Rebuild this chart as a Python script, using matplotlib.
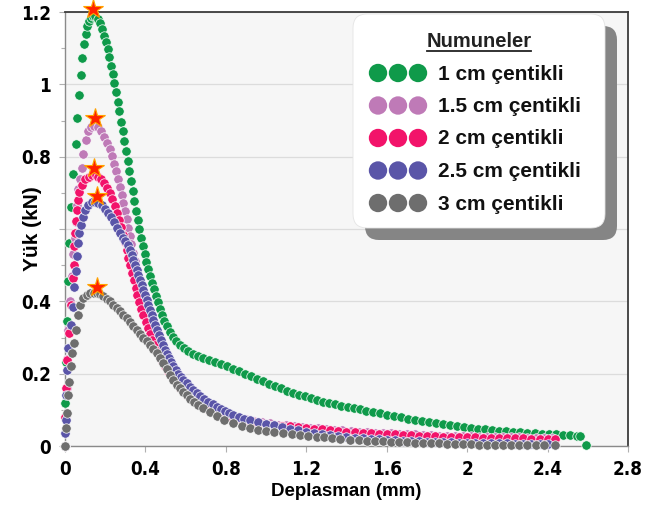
import matplotlib
matplotlib.use("Agg")
import matplotlib.pyplot as plt
from matplotlib.patches import FancyBboxPatch
from matplotlib.ticker import MultipleLocator

# Yük - deplasman verileri (her numune için)
x_1cm = [0.000, 0.001, 0.006, 0.012, 0.015, 0.020, 0.030, 0.041, 0.053, 0.061, 0.070, 0.078, 0.086, 0.095, 0.103,
         0.111, 0.119, 0.128, 0.138, 0.149, 0.163, 0.174, 0.186, 0.196, 0.204, 0.212, 0.220, 0.229, 0.237, 0.245,
         0.254, 0.262, 0.270, 0.278, 0.286, 0.294, 0.302, 0.311, 0.320, 0.328, 0.337, 0.345, 0.353, 0.361, 0.369,
         0.378, 0.387, 0.396, 0.404, 0.413, 0.422, 0.431, 0.441, 0.451, 0.461, 0.471, 0.482, 0.494, 0.507, 0.521,
         0.536, 0.553, 0.571, 0.591, 0.613, 0.637, 0.662, 0.688, 0.715, 0.745, 0.775, 0.805, 0.835, 0.865, 0.895,
         0.925, 0.955, 0.985, 1.015, 1.045, 1.075, 1.105, 1.135, 1.165, 1.195, 1.225, 1.255, 1.285, 1.315, 1.345,
         1.375, 1.405, 1.435, 1.465, 1.495, 1.530, 1.565, 1.600, 1.635, 1.670, 1.705, 1.740, 1.775, 1.810, 1.845,
         1.880, 1.915, 1.950, 1.985, 2.020, 2.055, 2.090, 2.125, 2.160, 2.195, 2.230, 2.265, 2.300, 2.335, 2.370,
         2.405, 2.440, 2.475, 2.510, 2.545, 2.560, 2.592]
y_1cm = [0.000, 0.120, 0.232, 0.345, 0.456, 0.561, 0.660, 0.753, 0.836, 0.908, 0.970, 1.026, 1.072, 1.111, 1.139,
         1.160, 1.176, 1.184, 1.188, 1.188, 1.181, 1.169, 1.153, 1.135, 1.117, 1.097, 1.076, 1.052, 1.028, 1.004,
         0.979, 0.952, 0.925, 0.897, 0.870, 0.843, 0.816, 0.788, 0.760, 0.732, 0.705, 0.678, 0.651, 0.625, 0.600,
         0.576, 0.553, 0.531, 0.510, 0.490, 0.471, 0.452, 0.433, 0.415, 0.397, 0.380, 0.363, 0.347, 0.331, 0.316,
         0.302, 0.290, 0.279, 0.270, 0.262, 0.255, 0.249, 0.244, 0.238, 0.232, 0.226, 0.220, 0.214, 0.207, 0.200,
         0.193, 0.186, 0.179, 0.172, 0.166, 0.159, 0.153, 0.147, 0.142, 0.137, 0.132, 0.127, 0.123, 0.119, 0.115,
         0.111, 0.107, 0.104, 0.101, 0.098, 0.094, 0.090, 0.086, 0.082, 0.079, 0.075, 0.072, 0.069, 0.066, 0.063,
         0.060, 0.058, 0.055, 0.053, 0.050, 0.048, 0.046, 0.044, 0.042, 0.041, 0.039, 0.038, 0.036, 0.035, 0.034,
         0.033, 0.032, 0.031, 0.030, 0.029, 0.028, 0.002]

x_15cm = [0.000, 0.004, 0.008, 0.012, 0.017, 0.024, 0.034, 0.042, 0.048, 0.053, 0.058, 0.066, 0.075, 0.083, 0.091,
          0.103, 0.116, 0.131, 0.146, 0.164, 0.180, 0.195, 0.209, 0.222, 0.234, 0.245, 0.255, 0.264, 0.273, 0.282,
          0.290, 0.298, 0.306, 0.314, 0.322, 0.330, 0.338, 0.346, 0.354, 0.363, 0.372, 0.381, 0.391, 0.401, 0.412,
          0.423, 0.435, 0.447, 0.460, 0.473, 0.487, 0.501, 0.516, 0.531, 0.547, 0.564, 0.582, 0.601, 0.621, 0.642,
          0.664, 0.687, 0.711, 0.736, 0.762, 0.790, 0.820, 0.860, 0.900, 0.940, 0.980, 1.020, 1.060, 1.100, 1.140,
          1.180, 1.220, 1.260, 1.300, 1.340, 1.380, 1.420, 1.460, 1.500, 1.540, 1.580, 1.620, 1.660, 1.700, 1.740,
          1.780, 1.820, 1.860, 1.900, 1.940, 1.980, 2.020, 2.060, 2.100, 2.140, 2.180, 2.220, 2.260, 2.300, 2.340,
          2.380, 2.420]
y_15cm = [0.000, 0.080, 0.160, 0.240, 0.320, 0.400, 0.470, 0.530, 0.575, 0.618, 0.666, 0.710, 0.738, 0.770, 0.808,
          0.845, 0.872, 0.883, 0.886, 0.881, 0.870, 0.855, 0.838, 0.820, 0.801, 0.781, 0.760, 0.739, 0.717, 0.695,
          0.673, 0.650, 0.627, 0.604, 0.581, 0.558, 0.535, 0.512, 0.489, 0.466, 0.443, 0.420, 0.398, 0.377, 0.356,
          0.336, 0.317, 0.299, 0.282, 0.265, 0.249, 0.234, 0.219, 0.205, 0.192, 0.179, 0.167, 0.155, 0.144, 0.134,
          0.125, 0.116, 0.108, 0.101, 0.095, 0.089, 0.084, 0.079, 0.074, 0.070, 0.067, 0.064, 0.059, 0.057, 0.055,
          0.053, 0.051, 0.049, 0.047, 0.045, 0.043, 0.041, 0.040, 0.038, 0.037, 0.036, 0.035, 0.034, 0.033, 0.032,
          0.031, 0.030, 0.029, 0.029, 0.028, 0.027, 0.027, 0.026, 0.026, 0.025, 0.025, 0.024, 0.024, 0.023, 0.023,
          0.022, 0.022]

x_2cm = [0.000, 0.000, 0.006, 0.012, 0.020, 0.030, 0.041, 0.045, 0.046, 0.050, 0.053, 0.058, 0.063, 0.070, 0.083,
         0.100, 0.118, 0.136, 0.152, 0.166, 0.180, 0.194, 0.208, 0.222, 0.235, 0.247, 0.258, 0.268, 0.278, 0.288,
         0.297, 0.306, 0.315, 0.324, 0.333, 0.342, 0.351, 0.360, 0.370, 0.380, 0.390, 0.401, 0.412, 0.423, 0.435,
         0.447, 0.459, 0.471, 0.484, 0.497, 0.511, 0.525, 0.540, 0.556, 0.572, 0.589, 0.607, 0.626, 0.646, 0.667,
         0.689, 0.712, 0.736, 0.761, 0.790, 0.820, 0.850, 0.880, 0.910, 0.940, 0.970, 1.000, 1.040, 1.080, 1.120,
         1.160, 1.200, 1.240, 1.280, 1.320, 1.360, 1.400, 1.440, 1.480, 1.520, 1.560, 1.600, 1.640, 1.680, 1.720,
         1.760, 1.800, 1.840, 1.880, 1.920, 1.960, 2.000, 2.040, 2.080, 2.120, 2.160, 2.200, 2.240, 2.280, 2.320,
         2.360, 2.400, 2.438]
y_2cm = [0.000, 0.080, 0.160, 0.238, 0.312, 0.390, 0.464, 0.500, 0.552, 0.589, 0.621, 0.653, 0.680, 0.703, 0.721,
         0.737, 0.745, 0.749, 0.748, 0.744, 0.737, 0.727, 0.714, 0.699, 0.682, 0.664, 0.645, 0.625, 0.605, 0.584,
         0.563, 0.542, 0.521, 0.500, 0.479, 0.458, 0.437, 0.417, 0.398, 0.379, 0.361, 0.343, 0.326, 0.310, 0.294,
         0.278, 0.263, 0.248, 0.234, 0.221, 0.208, 0.196, 0.184, 0.172, 0.161, 0.151, 0.141, 0.132, 0.124, 0.116,
         0.109, 0.102, 0.096, 0.090, 0.085, 0.080, 0.076, 0.072, 0.069, 0.066, 0.064, 0.062, 0.059, 0.056, 0.054,
         0.052, 0.050, 0.048, 0.046, 0.044, 0.042, 0.040, 0.038, 0.037, 0.035, 0.034, 0.033, 0.032, 0.031, 0.030,
         0.029, 0.028, 0.027, 0.026, 0.026, 0.025, 0.024, 0.024, 0.023, 0.023, 0.022, 0.022, 0.021, 0.021, 0.020,
         0.020, 0.019, 0.018]

x_25cm = [0.000, 0.002, 0.004, 0.006, 0.009, 0.017, 0.028, 0.038, 0.045, 0.054, 0.061, 0.066, 0.072, 0.080, 0.089,
          0.100, 0.116, 0.132, 0.148, 0.166, 0.182, 0.198, 0.214, 0.230, 0.246, 0.261, 0.275, 0.288, 0.300, 0.312,
          0.323, 0.332, 0.340, 0.349, 0.357, 0.365, 0.373, 0.382, 0.390, 0.398, 0.407, 0.415, 0.423, 0.431, 0.440,
          0.448, 0.456, 0.466, 0.477, 0.487, 0.498, 0.508, 0.518, 0.529, 0.539, 0.551, 0.564, 0.576, 0.589, 0.605,
          0.621, 0.638, 0.655, 0.672, 0.692, 0.713, 0.734, 0.755, 0.775, 0.796, 0.816, 0.837, 0.865, 0.892, 0.920,
          0.960, 1.000, 1.040, 1.080, 1.120, 1.160, 1.200, 1.240, 1.280, 1.320, 1.360, 1.400, 1.440, 1.480, 1.520,
          1.560, 1.600, 1.640, 1.680, 1.720, 1.760, 1.800, 1.840, 1.880, 1.920, 1.960, 2.000, 2.040, 2.080, 2.120,
          2.160, 2.200, 2.240, 2.280, 2.320, 2.360, 2.400]
y_25cm = [0.000, 0.036, 0.072, 0.140, 0.210, 0.270, 0.335, 0.385, 0.440, 0.485, 0.524, 0.561, 0.589, 0.611, 0.634,
          0.653, 0.666, 0.674, 0.676, 0.673, 0.665, 0.655, 0.644, 0.632, 0.619, 0.604, 0.589, 0.576, 0.566, 0.555,
          0.543, 0.529, 0.515, 0.501, 0.487, 0.473, 0.459, 0.445, 0.432, 0.418, 0.404, 0.391, 0.377, 0.363, 0.349,
          0.335, 0.321, 0.307, 0.293, 0.280, 0.266, 0.254, 0.242, 0.231, 0.220, 0.210, 0.200, 0.191, 0.183, 0.174,
          0.163, 0.155, 0.146, 0.138, 0.131, 0.123, 0.116, 0.109, 0.103, 0.097, 0.091, 0.086, 0.081, 0.076, 0.072,
          0.066, 0.061, 0.057, 0.052, 0.047, 0.043, 0.039, 0.036, 0.033, 0.030, 0.027, 0.025, 0.023, 0.021, 0.019,
          0.018, 0.017, 0.016, 0.015, 0.014, 0.013, 0.012, 0.011, 0.010, 0.010, 0.009, 0.009, 0.008, 0.008, 0.007,
          0.007, 0.007, 0.006, 0.006, 0.006, 0.006, 0.005]

x_3cm = [0.000, 0.005, 0.011, 0.017, 0.021, 0.028, 0.033, 0.045, 0.055, 0.066, 0.075, 0.091, 0.108, 0.125, 0.142,
         0.158, 0.175, 0.191, 0.207, 0.224, 0.240, 0.257, 0.273, 0.290, 0.306, 0.323, 0.340, 0.357, 0.373, 0.390,
         0.406, 0.423, 0.440, 0.456, 0.472, 0.489, 0.505, 0.522, 0.539, 0.556, 0.572, 0.589, 0.605, 0.622, 0.643,
         0.663, 0.688, 0.720, 0.755, 0.790, 0.837, 0.880, 0.920, 0.960, 1.000, 1.040, 1.086, 1.130, 1.170, 1.210,
         1.252, 1.290, 1.330, 1.370, 1.418, 1.460, 1.500, 1.540, 1.580, 1.620, 1.660, 1.700, 1.740, 1.780, 1.820,
         1.860, 1.900, 1.940, 1.980, 2.020, 2.060, 2.100, 2.140, 2.180, 2.220, 2.260, 2.300, 2.340, 2.380, 2.438]
y_3cm = [0.000, 0.049, 0.090, 0.141, 0.178, 0.220, 0.256, 0.284, 0.320, 0.362, 0.390, 0.408, 0.417, 0.422, 0.424,
         0.423, 0.420, 0.414, 0.407, 0.400, 0.391, 0.382, 0.372, 0.362, 0.353, 0.344, 0.333, 0.322, 0.310, 0.298,
         0.289, 0.280, 0.268, 0.256, 0.243, 0.229, 0.213, 0.197, 0.183, 0.169, 0.159, 0.149, 0.140, 0.131, 0.122,
         0.114, 0.104, 0.093, 0.083, 0.073, 0.064, 0.056, 0.049, 0.045, 0.041, 0.038, 0.035, 0.032, 0.030, 0.028,
         0.026, 0.024, 0.022, 0.020, 0.017, 0.016, 0.015, 0.014, 0.013, 0.012, 0.011, 0.010, 0.009, 0.008, 0.008,
         0.007, 0.006, 0.006, 0.005, 0.005, 0.004, 0.004, 0.004, 0.003, 0.003, 0.003, 0.003, 0.003, 0.003, 0.003]

# maksimum yük noktaları (yıldızlar)
peak_x = [0.138, 0.149, 0.146, 0.160, 0.158]
peak_y = [1.209, 0.906, 0.768, 0.690, 0.440]

labels = ['1 cm çentikli', '1.5 cm çentikli', '2 cm çentikli', '2.5 cm çentikli', '3 cm çentikli']
colors = ['#0f9a4a', '#bf7ab7', '#f2136a', '#5a55a8', '#6e6e6e']
series = [(x_1cm, y_1cm), (x_15cm, y_15cm), (x_2cm, y_2cm), (x_25cm, y_25cm), (x_3cm, y_3cm)]

x_ticks = [0, 0.4, 0.8, 1.2, 1.6, 2.0, 2.4, 2.8]
x_tick_labels = ['0', '0.4', '0.8', '1.2', '1.6', '2', '2.4', '2.8']
y_ticks = [0, 0.2, 0.4, 0.6, 0.8, 1.0, 1.2]
# 0.6 etiketi eksen başlığının altında kalıyor
y_tick_labels = ['0', '0.2', '0.4', '', '0.8', '1', '1.2']

tick_font = ['DejaVu Sans']
text_font = ['Liberation Sans', 'DejaVu Sans']

fig = plt.figure(figsize=(6.46, 5.08), dpi=100)
ax = fig.add_axes([65 / 646, 62 / 508, 563 / 646, 434 / 508])
ax.set_facecolor('#f6f6f6')

for (xs, ys), c in zip(series, colors):
    ax.scatter(xs, ys, s=46, color=c, edgecolors='white', linewidths=0.5, zorder=3, clip_on=False)

ax.plot(peak_x, peak_y, linestyle='none', marker='*', markersize=15, color='#ff2200',
        markeredgecolor='#ffa200', markeredgewidth=0.8, zorder=5, clip_on=False)

ax.set_xlim(0, 2.8)
ax.set_ylim(0, 1.2)
ax.set_xticks(x_ticks, x_tick_labels)
ax.set_yticks(y_ticks, y_tick_labels)
ax.yaxis.set_minor_locator(MultipleLocator(0.1))
ax.grid(axis='y', color='#dcdcdc', linewidth=0.9, zorder=0)
ax.set_axisbelow(True)

ax.tick_params(axis='both', which='major', length=4, width=0.8, color='#b0b0b0', pad=6)
ax.tick_params(axis='y', which='minor', length=3, width=0.8, color='#b0b0b0')
for lab in ax.get_xticklabels() + ax.get_yticklabels():
    lab.set_family(tick_font)
    lab.set_fontstretch('condensed')
    lab.set_fontweight('bold')
    lab.set_fontsize(13.5)

for side in ['left', 'bottom']:
    ax.spines[side].set_color('#8a8a8a')
    ax.spines[side].set_linewidth(1.0)
for side in ['top', 'right']:
    ax.spines[side].set_color('#3c3c3c')
    ax.spines[side].set_linewidth(1.3)

ax.set_xlabel('Deplasman (mm)', family=text_font, fontweight='bold', fontsize=13.5, labelpad=3)
ax.set_ylabel('Yük (kN)', family=text_font, fontweight='bold', fontsize=15)
ax.yaxis.set_label_coords(-0.04, 0.5)

# açıklama kutusu (piksel koordinatlarında)
lg = fig.add_axes([0, 0, 1, 1], facecolor='none')
lg.set_xlim(0, 646)
lg.set_ylim(508, 0)
lg.axis('off')
lg.add_patch(FancyBboxPatch((365, 26), 252, 214, boxstyle='round,pad=0,rounding_size=14',
                            facecolor='#858585', edgecolor='none'))
lg.add_patch(FancyBboxPatch((353, 14), 252, 214, boxstyle='round,pad=0,rounding_size=14',
                            facecolor='white', edgecolor='#e4e4e4', linewidth=0.6))
lg.text(479, 47, 'Numuneler', ha='center', va='baseline', family=text_font,
        fontweight='bold', fontsize=14.5, color='#222222')
lg.plot([427, 531], [51, 51], color='#222222', linewidth=1.3)
for i, (lab, c) in enumerate(zip(labels, colors)):
    yy = 73 + i * 32.5
    lg.scatter([378, 398, 418], [yy] * 3, s=175, color=c, edgecolors='none')
    lg.text(438, yy + 1, lab, ha='left', va='center', family=text_font,
            fontweight='bold', fontsize=15, color='#111111')

fig.savefig('out.png', dpi=100)
